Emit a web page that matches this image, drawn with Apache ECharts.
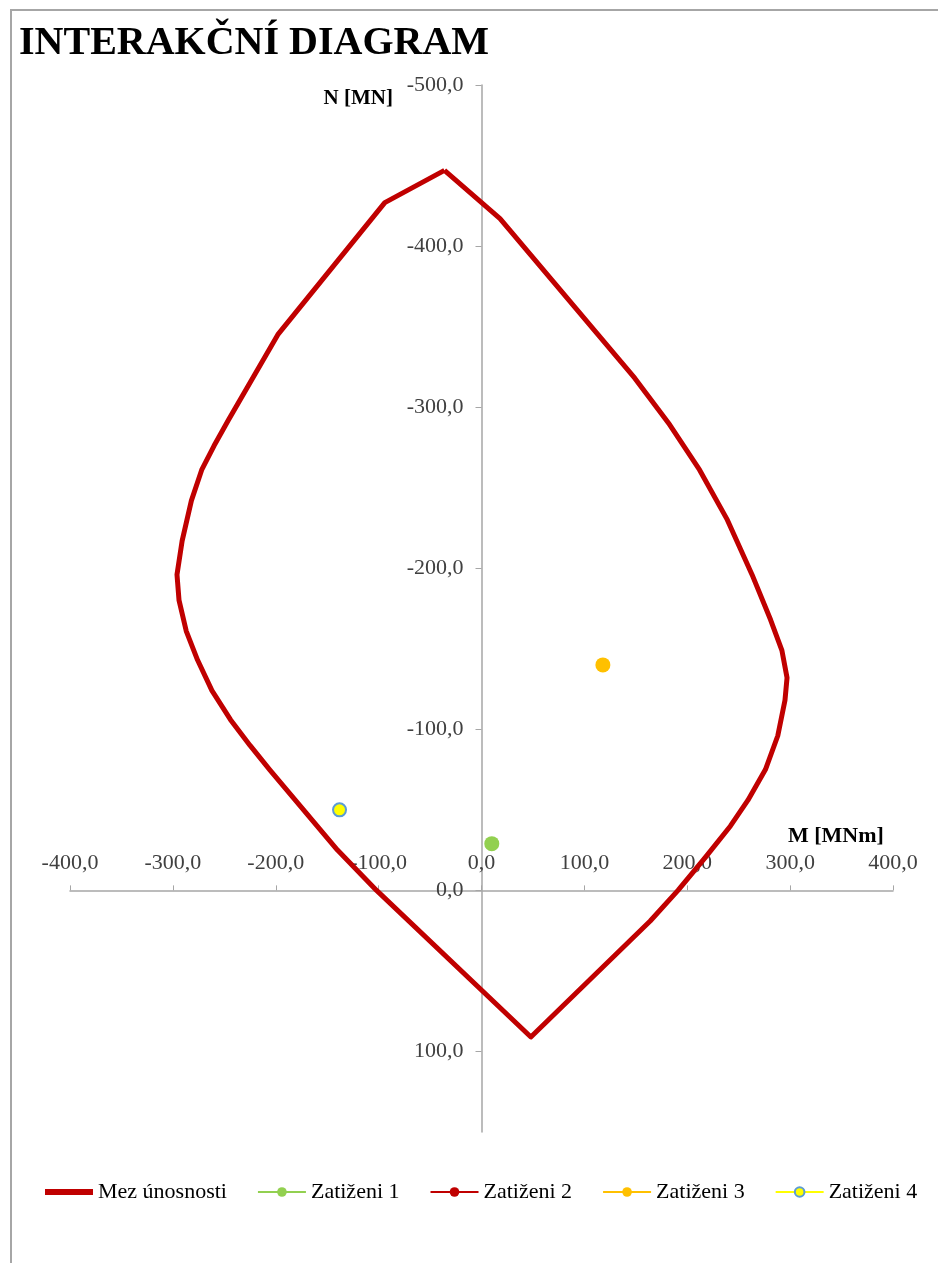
<!DOCTYPE html>
<html>
<head>
<meta charset="utf-8">
<script src="https://cdn.jsdelivr.net/npm/echarts@6/dist/echarts.min.js"></script>
<style>
    html, body { margin: 0; padding: 0; background: #fff; }
    #frame { position: absolute; left: 10px; top: 9px; width: 1000px; height: 1300px; border: 2px solid #a6a6a6; }
    #chart { position: absolute; left: 0; top: 0; width: 938px; height: 1263px; }
</style>
</head>
<body>
<div id="frame"></div>
<div id="chart"></div>
<script>
    // mez unosnosti - obrys interakcniho diagramu (M [MNm], N [MN])
    const mezM = [-36, 18, 149, 183, 212, 239, 263, 281, 292, 297, 295, 288, 276, 259, 242, 217, 191, 164, 48,
        -102, -140, -206, -225, -244, -262, -276, -287, -294, -296, -291, -282, -272, -260, -246, -198, -94, -36];
    const mezN = [-447, -417, -318, -289, -261, -230, -196, -168, -149, -132, -118, -96, -75, -56, -40, -20, 0, 19, 91,
        0, -25, -75, -90, -106, -124, -143, -161, -180, -196, -217, -242, -261, -276, -292, -345, -427, -447];

    // zatizeni (M, N)
    const load1 = [[10, -29]];
    const load2 = [];
    const load3 = [[118, -140]];
    const load4 = [[-138, -50]];

    const yTicks = [-500, -400, -300, -200, -100, 0, 100];
    const xTicks = [-400, -300, -200, -100, 0, 100, 200, 300, 400];
    const xRange = [-400, 400];
    const yRange = [-500, 150];

    const serif = 'Liberation Serif';
    const fmt = v => v.toFixed(1).replace('.', ',');

    // grid v px, osy se posunou na nulu druhe osy
    const W = 938, H = 1263;
    const grid = { left: 70, right: 45, top: 85, bottom: 131 };
    const gw = W - grid.left - grid.right;
    const gh = H - grid.top - grid.bottom;
    const xAxisOffset = -(0 - yRange[0]) / (yRange[1] - yRange[0]) * gh;
    const yAxisOffset = -(0 - xRange[0]) / (xRange[1] - xRange[0]) * gw;

    let myChart = echarts.init(document.getElementById('chart'));
    let option = {
        animation: false,
        title: {
            text: 'INTERAKČNÍ DIAGRAM',
            left: 14,
            top: 19,
            textStyle: { fontFamily: serif, fontWeight: 'bold', fontSize: 40, color: '#000' }
        },
        grid: Object.assign({ containLabel: false }, grid),
        legend: {
            left: 40,
            top: 1176,
            itemGap: 30,
            itemWidth: 48,
            itemHeight: 12,
            textStyle: { fontFamily: serif, fontSize: 22, color: '#000' },
            data: [
                { name: 'Mez únosnosti', icon: 'path://M0,0L48,0L48,6L0,6Z', itemStyle: { color: '#c00000' } },
                'Zatiženi 1', 'Zatiženi 2', 'Zatiženi 3', 'Zatiženi 4'
            ]
        },
        xAxis: {
            type: 'value',
            position: 'top',
            offset: xAxisOffset,
            min: xRange[0],
            max: xRange[1],
            interval: 100,
            axisLine: { onZero: false, lineStyle: { color: '#a6a6a6', width: 1.5 } },
            axisTick: { show: true, length: 5, lineStyle: { color: '#a6a6a6' }, customValues: xTicks },
            axisLabel: {
                margin: 16, fontFamily: serif, fontSize: 22, color: '#404040',
                formatter: fmt, customValues: xTicks
            },
            splitLine: { show: false }
        },
        yAxis: {
            type: 'value',
            position: 'left',
            offset: yAxisOffset,
            inverse: true,
            min: yRange[0],
            max: yRange[1],
            interval: 100,
            axisLine: { show: true, onZero: false, lineStyle: { color: '#a6a6a6', width: 1.5 } },
            axisTick: { show: true, length: 6, lineStyle: { color: '#a6a6a6' }, customValues: yTicks },
            axisLabel: {
                margin: 18, fontFamily: serif, fontSize: 22, color: '#404040',
                formatter: fmt, customValues: yTicks
            },
            splitLine: { show: false }
        },
        graphic: [
            {
                type: 'text', right: W - 393, top: 88,
                style: { text: 'N [MN]', fontFamily: serif, fontWeight: 'bold', fontSize: 21, fill: '#000' }
            },
            {
                type: 'text', left: 788, top: 825,
                style: { text: 'M [MNm]', fontFamily: serif, fontWeight: 'bold', fontSize: 22, fill: '#000' }
            }
        ],
        series: [
            {
                name: 'Mez únosnosti',
                type: 'line',
                data: mezM.map((m, i) => [m, mezN[i]]),
                symbol: 'none',
                lineStyle: { color: '#c00000', width: 5, join: 'round' },
                itemStyle: { color: '#c00000' },
                z: 2
            },
            {
                name: 'Zatiženi 1',
                type: 'line',
                data: load1,
                symbol: 'circle',
                symbolSize: 15,
                lineStyle: { color: '#92d050', width: 3 },
                itemStyle: { color: '#92d050' },
                z: 3
            },
            {
                name: 'Zatiženi 2',
                type: 'line',
                data: load2,
                symbol: 'circle',
                symbolSize: 15,
                lineStyle: { color: '#c00000', width: 3 },
                itemStyle: { color: '#c00000' },
                z: 3
            },
            {
                name: 'Zatiženi 3',
                type: 'line',
                data: load3,
                symbol: 'circle',
                symbolSize: 15,
                lineStyle: { color: '#ffc000', width: 3 },
                itemStyle: { color: '#ffc000' },
                z: 3
            },
            {
                name: 'Zatiženi 4',
                type: 'line',
                data: load4,
                symbol: 'circle',
                symbolSize: 13,
                lineStyle: { color: '#ffff00', width: 3 },
                itemStyle: { color: '#ffff00', borderColor: '#5b9bd5', borderWidth: 2 },
                z: 3
            }
        ]
    };
    myChart.setOption(option);
</script>
</body>
</html>
